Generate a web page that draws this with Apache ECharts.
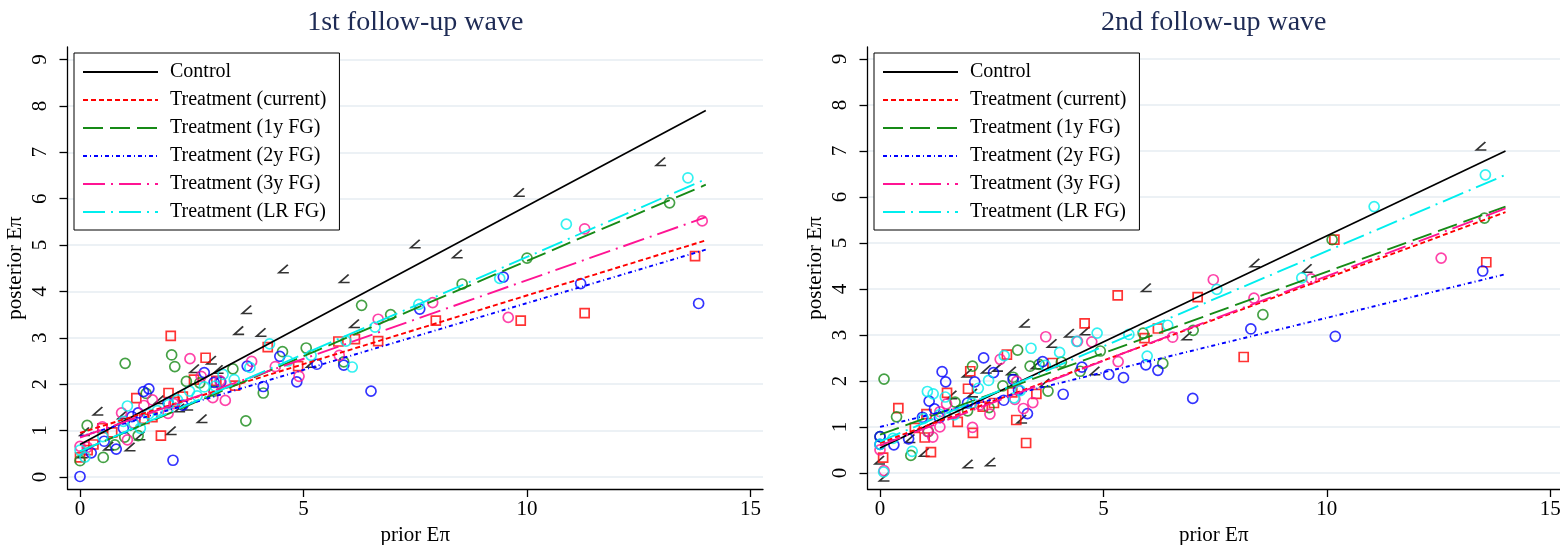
<!DOCTYPE html>
<html><head><meta charset="utf-8">
<script src="https://cdn.jsdelivr.net/npm/echarts@6/dist/echarts.min.js"></script>
<style>html,body{margin:0;padding:0;background:#fff}#c{width:1560px;height:545px}</style>
</head><body><div id="c"></div>
<script>
// ---------------- DATA ----------------
const panelTitles = ['1st follow-up wave', '2nd follow-up wave'];
const groups = ['Control', 'Treatment (current)', 'Treatment (1y FG)', 'Treatment (2y FG)', 'Treatment (3y FG)', 'Treatment (LR FG)'];
const xTicks = [0, 5, 10, 15];
const yTicks = [0, 1, 2, 3, 4, 5, 6, 7, 8, 9];
const lineX = [0, 14];
// fitted lines: value at x=0 and at x=14
const w1LineStart = [0.70, 0.95, 0.55, 0.87, 0.85, 0.55];
const w1LineEnd   = [7.90, 5.10, 6.30, 4.90, 5.60, 6.42];
const w2LineStart = [0.54, 0.65, 0.83, 1.00, 0.60, 0.68];
const w2LineEnd   = [7.00, 5.67, 5.79, 4.32, 5.75, 6.48];

// wave 1 points [prior, posterior]
const w1Control = [[0.06,0.5],[0.11,0.98],[0.41,1.42],[0.65,0.67],[0.96,1.34],[1.13,0.65],[1.35,0.89],[1.78,1.67],[2.05,1.0],[2.24,1.49],[2.42,1.53],[2.57,2.34],[2.74,1.26],[2.95,2.52],[3.1,2.32],[3.56,3.16],[3.74,3.61],[4.06,3.12],[4.56,4.49],[5.18,2.45],[5.92,4.28],[6.15,3.31],[7.51,5.03],[8.45,4.81],[9.84,6.14],[13.0,6.8]];
const w1Current = [[0.0,0.42],[0.17,0.58],[0.3,0.7],[0.5,1.05],[0.72,0.96],[1.26,1.70],[1.44,1.25],[1.62,1.29],[1.81,0.89],[1.98,1.81],[2.03,3.04],[2.12,1.62],[2.3,1.73],[2.55,2.10],[2.81,2.57],[3.05,2.07],[3.47,1.97],[4.2,2.80],[4.88,2.39],[5.78,2.92],[6.15,2.97],[6.67,2.93],[7.96,3.37],[9.86,3.37],[11.29,3.53],[13.76,4.76]];
const w1FG1 = [[0.0,0.35],[0.16,1.11],[0.52,0.42],[0.78,0.69],[1.0,0.86],[1.01,2.45],[1.3,0.89],[1.48,1.80],[2.05,2.63],[2.12,2.38],[2.38,2.06],[2.68,2.03],[3.0,1.85],[3.42,2.33],[3.71,1.21],[4.1,1.81],[4.53,2.70],[5.06,2.78],[5.9,2.48],[6.3,3.70],[6.95,3.50],[8.55,4.16],[10.0,4.72],[13.19,5.91]];
const w1FG2 = [[0.0,0.01],[0.25,0.52],[0.54,0.77],[0.81,0.6],[0.97,1.05],[1.16,1.30],[1.3,1.38],[1.42,1.84],[1.54,1.9],[1.97,1.6],[2.08,0.36],[2.3,1.55],[2.78,2.25],[3.0,2.04],[3.15,2.05],[3.74,2.39],[4.1,1.95],[4.47,2.60],[4.85,2.05],[5.3,2.43],[5.9,2.41],[6.51,1.85],[7.6,3.62],[9.47,4.31],[11.2,4.17],[13.84,3.74]];
const w1FG3 = [[0.0,0.66],[0.16,0.64],[0.5,1.08],[0.93,1.38],[1.06,0.80],[1.2,1.16],[1.43,1.54],[1.62,1.66],[1.97,1.37],[2.1,1.58],[2.46,2.55],[2.71,2.17],[2.97,1.71],[3.13,2.07],[3.25,1.65],[3.84,2.49],[4.37,2.38],[4.9,2.17],[5.8,2.62],[6.67,3.40],[7.89,3.76],[9.58,3.44],[11.29,5.35],[13.92,5.52]];
const w1LR = [[0.0,0.58],[0.11,0.43],[0.51,0.87],[0.97,1.2],[1.06,1.53],[1.2,1.14],[1.35,1.05],[1.54,1.36],[1.73,1.43],[1.98,1.56],[2.18,1.66],[2.45,1.85],[2.62,1.75],[2.78,1.94],[3.02,1.96],[3.2,2.21],[3.45,2.10],[3.8,2.36],[4.24,2.87],[4.65,2.50],[5.17,2.62],[5.95,2.93],[6.09,2.37],[6.6,3.23],[7.58,3.72],[9.39,4.28],[10.88,5.45],[13.6,6.45]];

// wave 2 points
const w2Control = [[0.0,0.28],[0.1,-0.09],[0.68,0.75],[1.0,0.45],[1.62,1.70],[1.96,2.17],[1.98,0.2],[2.08,1.74],[2.39,2.26],[2.48,0.24],[2.64,2.30],[2.95,2.22],[3.18,1.17],[3.25,3.26],[3.5,2.35],[3.7,1.96],[3.86,2.82],[4.25,3.04],[4.6,3.09],[4.82,2.22],[5.97,4.03],[6.88,2.98],[8.4,4.57],[9.57,4.45],[13.46,7.11]];
const w2Current = [[0.07,0.33],[0.41,1.41],[0.78,0.98],[1.0,0.77],[1.04,1.28],[1.14,0.45],[1.5,1.74],[1.74,1.11],[1.97,1.83],[2.02,2.21],[2.08,0.87],[2.3,1.44],[2.55,1.52],[2.84,2.57],[2.96,1.75],[3.05,1.15],[3.27,0.65],[3.5,1.72],[3.86,2.39],[4.58,3.25],[5.32,3.86],[5.92,2.93],[6.22,3.14],[7.11,3.82],[8.14,2.52],[10.17,5.07],[13.57,4.58]];
const w2FG1 = [[0.0,0.79],[0.09,2.04],[0.37,1.22],[0.69,0.38],[1.08,0.90],[1.68,1.54],[1.96,1.35],[2.07,2.32],[2.44,1.42],[2.75,1.89],[2.98,2.08],[3.08,2.67],[3.36,2.32],[3.56,2.36],[3.76,1.78],[4.06,2.41],[4.48,2.21],[4.93,2.65],[5.89,3.04],[6.33,2.38],[7.01,3.10],[8.57,3.44],[10.12,5.07],[13.53,5.54]];
const w2FG2 = [[0.0,0.79],[0.0,0.62],[0.31,0.61],[0.64,0.74],[0.95,1.21],[1.1,1.56],[1.22,1.39],[1.33,1.2],[1.39,2.2],[1.47,1.98],[1.96,1.52],[2.12,1.98],[2.32,2.5],[2.54,2.18],[2.77,1.58],[2.98,2.03],[3.1,1.8],[3.3,1.29],[3.64,2.42],[4.1,1.71],[4.52,2.3],[5.12,2.14],[5.45,2.07],[5.95,2.35],[6.22,2.23],[7.0,1.62],[8.3,3.13],[10.19,2.97],[13.49,4.39]];
const w2FG3 = [[0.0,0.5],[0.09,0.05],[1.07,0.9],[1.18,0.78],[1.34,1.0],[1.34,1.33],[1.49,1.50],[1.68,1.29],[2.07,0.99],[2.24,1.48],[2.46,1.28],[2.69,2.47],[3.02,1.6],[3.06,1.99],[3.21,1.40],[3.42,1.53],[3.71,2.96],[4.42,2.86],[4.74,2.85],[5.33,2.42],[6.55,2.95],[7.46,4.20],[8.37,3.80],[9.65,4.22],[12.56,4.67]];
const w2LR = [[0.0,0.62],[0.08,0.02],[0.29,0.75],[0.72,0.47],[0.97,1.18],[1.06,1.77],[1.19,1.72],[1.34,1.27],[1.46,1.65],[1.66,1.26],[2.06,1.52],[2.2,1.84],[2.43,2.01],[2.78,2.55],[3.0,1.63],[3.14,1.79],[3.38,2.71],[3.7,2.34],[4.02,2.62],[4.4,2.86],[4.86,3.04],[5.57,3.01],[5.98,2.54],[6.44,3.21],[7.54,3.99],[9.44,4.24],[11.06,5.79],[13.55,6.48]];

// ---------------- STYLE ----------------
const FONT = "'Liberation Serif','Times New Roman','DejaVu Serif',serif";
const colors = ['#000000', '#ff0000', '#168a16', '#0000ff', '#ff1493', '#00eeee'];
const dashes = ['solid', [5, 3], [20, 7], [4, 3, 1, 3], [22, 6, 2, 6], [22, 6, 2, 6]];
const anglePath = 'path://M9,0 L0,8 L10,8';
const symbols = [anglePath, 'rect', 'circle', 'circle', 'circle', 'circle'];
const symSizes = [[10, 8], 9, 10, 10, 10, 10];

const panels = [
  {points: [w1Control, w1Current, w1FG1, w1FG2, w1FG3, w1LR], start: w1LineStart, end: w1LineEnd,
   grid: {left: 67.5, top: 47, width: 695.5, height: 442}, xr: [-0.28, 15.28], yr: [-0.26, 9.27], legendLeft: 74},
  {points: [w2Control, w2Current, w2FG1, w2FG2, w2FG3, w2LR], start: w2LineStart, end: w2LineEnd,
   grid: {left: 867.5, top: 47, width: 692.5, height: 442}, xr: [-0.28, 15.22], yr: [-0.35, 9.26], legendLeft: 874}
];

const grids = [], xAxes = [], yAxes = [], series = [], legends = [], graphics = [];
panels.forEach((p, k) => {
  grids.push(Object.assign({containLabel: false, outerBoundsMode: 'none'}, p.grid));
  xAxes.push({
    type: 'value', gridIndex: k, min: p.xr[0], max: p.xr[1],
    name: 'prior Eπ', nameLocation: 'middle', nameGap: 33,
    nameTextStyle: {fontFamily: FONT, fontSize: 21, color: '#000'},
    axisLine: {onZero: false, lineStyle: {color: '#000', width: 1.3}},
    axisTick: {show: true, length: 8, lineStyle: {color: '#000', width: 1.3}, customValues: xTicks},
    axisLabel: {customValues: xTicks, margin: 10, fontFamily: FONT, fontSize: 21, color: '#000'},
    splitLine: {show: false}
  });
  yAxes.push({
    type: 'value', gridIndex: k, min: p.yr[0], max: p.yr[1],
    name: 'posterior Eπ', nameLocation: 'middle', nameGap: 42,
    nameTextStyle: {fontFamily: FONT, fontSize: 21, color: '#000'},
    axisLine: {onZero: false, lineStyle: {color: '#000', width: 1.3}},
    axisTick: {show: true, length: 8, lineStyle: {color: '#000', width: 1.3}, customValues: yTicks},
    axisLabel: {customValues: yTicks, rotate: 90, margin: 17, fontFamily: FONT, fontSize: 21, color: '#000'},
    splitLine: {show: false}
  });
  // gridlines
  series.push({
    type: 'line', xAxisIndex: k, yAxisIndex: k, data: [], silent: true, z: 0,
    markLine: {silent: true, z: 0, symbol: ['none', 'none'], label: {show: false}, animation: false,
      lineStyle: {color: '#e6edf2', width: 1.5, type: 'solid'},
      data: yTicks.map(v => ({yAxis: v}))}
  });
  groups.forEach((g, i) => {
    series.push({
      name: g + ' (obs)', type: 'scatter', xAxisIndex: k, yAxisIndex: k, data: p.points[i],
      symbol: symbols[i], symbolSize: symSizes[i], z: 2,
      itemStyle: {color: 'rgba(0,0,0,0)', borderColor: colors[i], borderWidth: 1.7}
    });
  });
  groups.forEach((g, i) => {
    series.push({
      name: g, type: 'line', xAxisIndex: k, yAxisIndex: k,
      data: [[lineX[0], p.start[i]], [lineX[1], p.end[i]]],
      symbol: 'none', z: 3,
      lineStyle: {color: colors[i], width: i === 0 ? 1.7 : 1.9, type: dashes[i]},
      itemStyle: {color: colors[i]}
    });
  });
  legends.push({
    data: groups, orient: 'vertical', left: p.legendLeft, top: 53, z: 10,
    itemWidth: 75, itemHeight: 16, itemGap: 8, selectedMode: false,
    itemStyle: {color: 'rgba(0,0,0,0)', borderWidth: 0, opacity: 0},
    padding: [9, 13, 8, 8], borderColor: '#000', borderWidth: 1, backgroundColor: '#fff',
    textStyle: {fontFamily: FONT, fontSize: 20, lineHeight: 20, color: '#000', padding: [0, 0, 0, 7]}
  });
  graphics.push({
    type: 'text', x: p.grid.left + p.grid.width / 2, y: 23,
    style: {text: panelTitles[k], fontFamily: FONT, fontSize: 28, fill: '#1e2b55', textAlign: 'center', textVerticalAlign: 'middle'}
  });
});

const chart = echarts.init(document.getElementById('c'), null, {renderer: 'canvas'});
chart.setOption({
  animation: false,
  backgroundColor: '#fff',
  grid: grids, xAxis: xAxes, yAxis: yAxes, series: series, legend: legends,
  graphic: graphics
});
</script></body></html>
